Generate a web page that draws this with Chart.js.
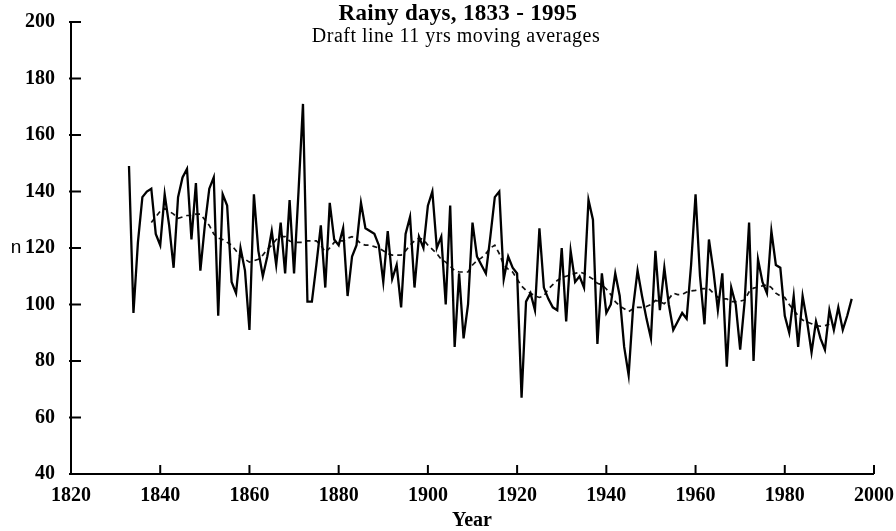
<!DOCTYPE html>
<html>
<head>
<meta charset="utf-8">
<title>Rainy days, 1833 - 1995</title>
<script src="https://cdn.jsdelivr.net/npm/chart.js@4.4.1/dist/chart.umd.min.js"></script>
<style>
  html, body { margin: 0; padding: 0; background: #fff; }
  #chart { display: block; }
</style>
</head>
<body>
<canvas id="chart" width="896" height="531"></canvas>
<script>
// yearly values, 1833 to 1995
const firstYear = 1833;
const rainyDays = [
  149, 97, 122, 138, 140, 141, 125,                   // 1833-1839
  121, 139, 128, 113, 138, 145, 148, 123, 143, 112,   // 1840s
  128, 141, 145, 96, 139, 135, 108, 104, 120, 112,    // 1850s
  91, 139, 119, 110, 117, 126, 114, 129, 111, 137,    // 1860s
  111, 140, 171, 101, 101, 114, 128, 106, 136, 123,   // 1870s
  121, 127, 103, 117, 121, 136, 127, 126, 125, 121,   // 1880s
  108, 126, 109, 114, 99, 125, 131, 106, 124, 120,    // 1890s
  135, 140, 120, 124, 100, 135, 85, 111, 88, 100,     // 1900s
  129, 117, 114, 111, 124, 138, 140, 109, 117, 113,   // 1910s
  111, 67, 101, 104, 98, 127, 106, 102, 99, 98,       // 1920s
  120, 94, 119, 108, 110, 106, 137, 130, 86, 111,     // 1930s
  97, 100, 111, 103, 85, 75, 99, 112, 103, 95,        // 1940s
  88, 119, 98, 113, 100, 91, 94, 97, 95, 114,         // 1950s
  139, 110, 93, 123, 112, 98, 111, 78, 106, 100,      // 1960s
  84, 101, 129, 80, 116, 108, 104, 126, 114, 113,     // 1970s
  96, 90, 103, 85, 103, 94, 83, 94, 88, 84,           // 1980s
  98, 91, 99, 91, 96, 102                             // 1990-1995
];

// 11 yrs moving averages (draft line), 1838 to 1990
const maFirstYear = 1838;
const movingAvg = [
  129, 131,                                                       // 1838-1839
  133, 134, 133, 132, 130.5, 131, 131.5, 131.5, 132, 132,         // 1840s
  130, 128, 125, 123.5, 123, 122, 121, 119, 117, 116,             // 1850s
  115, 115.5, 116, 117.5, 119.5, 121, 123, 124, 124, 122.5,       // 1860s
  122, 122, 122, 122.5, 122.5, 122.5, 121, 118.5, 120, 122,       // 1870s
  122.5, 122.5, 123.5, 124, 123, 121.5, 121, 121, 120.5, 120,     // 1880s
  119, 118, 117.5, 117.5, 117.5, 119, 121, 122.5, 123.5, 123,     // 1890s
  121, 119.5, 118, 116, 115, 113.5, 112, 111.5, 111.5, 111.5,     // 1900s
  114, 115.5, 116.5, 118, 120, 121, 118, 114, 112.5, 111.5,       // 1910s
  109, 106.5, 105, 104, 103, 102.5, 103, 105.5, 107, 108.5,       // 1920s
  109.5, 110, 110.5, 111, 111.5, 111, 110, 109, 107.5, 107,       // 1930s
  105.5, 103.5, 101, 99.5, 98.5, 97.5, 98.5, 99, 99, 99.3,        // 1940s
  100, 101.4, 101, 100.3, 102, 104, 103.5, 103.5, 104.4, 104.8,   // 1950s
  105, 105.5, 105.6, 105.6, 104, 102.6, 102, 102, 101, 101,       // 1960s
  101.2, 101.6, 104.5, 105.8, 106.2, 106.6, 107, 106, 104, 103,   // 1970s
  102.5, 100, 98, 96, 94.5, 93.8, 93.2, 92.5, 92.3, 92.5,         // 1980s
  93                                                              // 1990
];

const xTicks = [1820, 1840, 1860, 1880, 1900, 1920, 1940, 1960, 1980, 2000];
const yTicks = [40, 60, 80, 100, 120, 140, 160, 180, 200];

const serif = '"Liberation Serif", "Times New Roman", serif';

// axes, inward tick marks and the texts round the plot
const frame = {
  id: "frame",
  afterDraw(chart) {
    const { ctx, chartArea, scales } = chart;
    const x = scales.x;
    const y = scales.y;
    ctx.save();
    ctx.strokeStyle = "#000";
    ctx.lineWidth = 2;
    ctx.beginPath();
    ctx.moveTo(chartArea.left, chartArea.top);
    ctx.lineTo(chartArea.left, chartArea.bottom);
    ctx.lineTo(chartArea.right, chartArea.bottom);
    ctx.stroke();

    yTicks.forEach((v) => {
      const py = y.getPixelForValue(v);
      ctx.beginPath();
      ctx.moveTo(chartArea.left - 2, py);
      ctx.lineTo(chartArea.left + 10, py);
      ctx.stroke();
    });
    xTicks.forEach((v) => {
      const px = x.getPixelForValue(v);
      ctx.beginPath();
      ctx.moveTo(px, chartArea.bottom);
      ctx.lineTo(px, chartArea.bottom - 9);
      ctx.stroke();
    });

    ctx.fillStyle = "#000";
    ctx.textAlign = "center";
    ctx.textBaseline = "alphabetic";
    ctx.letterSpacing = "0.3px";
    ctx.font = "bold 23px " + serif;
    ctx.fillText("Rainy days, 1833 - 1995", 458, 20);
    ctx.letterSpacing = "0.5px";
    ctx.font = "20px " + serif;
    ctx.fillText("Draft line 11 yrs moving averages", 456, 42);
    ctx.letterSpacing = "0px";
    ctx.font = "bold 20px " + serif;
    ctx.fillText("Year", 472, 526);
    ctx.font = '19px "Liberation Sans", Arial, sans-serif';
    ctx.fillText("n", 16, 253);
    ctx.restore();
  },
};

new Chart(document.getElementById("chart"), {
  type: "line",
  data: {
    datasets: [
      {
        label: "Rainy days",
        data: rainyDays.map((v, i) => ({ x: firstYear + i, y: v })),
        borderColor: "#000",
        borderWidth: 2.3,
        pointRadius: 0,
        tension: 0,
      },
      {
        label: "11 yrs moving averages",
        data: movingAvg.map((v, i) => ({ x: maFirstYear + i, y: v })),
        borderColor: "#111",
        borderWidth: 1.7,
        borderDash: [5, 4],
        pointRadius: 0,
        tension: 0,
      },
    ],
  },
  options: {
    responsive: false,
    animation: false,
    devicePixelRatio: 1,
    layout: { padding: { top: 22, right: 19, left: 0, bottom: 0 } },
    plugins: {
      legend: { display: false },
      tooltip: { enabled: false },
    },
    scales: {
      x: {
        type: "linear",
        min: 1820,
        max: 2000,
        grid: { display: false },
        border: { display: false },
        afterBuildTicks: (s) => { s.ticks = xTicks.map((v) => ({ value: v })); },
        afterFit: (s) => { s.height = 57; },
        ticks: {
          autoSkip: false,
          maxRotation: 0,
          padding: 2,
          color: "#000",
          font: { family: serif, size: 20, weight: "bold" },
          callback: (v) => String(v),
        },
      },
      y: {
        min: 40,
        max: 200,
        grid: { display: false },
        border: { display: false },
        afterBuildTicks: (s) => { s.ticks = yTicks.map((v) => ({ value: v })); },
        afterFit: (s) => { s.width = 71; },
        ticks: {
          padding: 8,
          color: "#000",
          font: { family: serif, size: 20, weight: "bold" },
          callback: (v) => String(v),
        },
      },
    },
  },
  plugins: [frame],
});
</script>
</body>
</html>
